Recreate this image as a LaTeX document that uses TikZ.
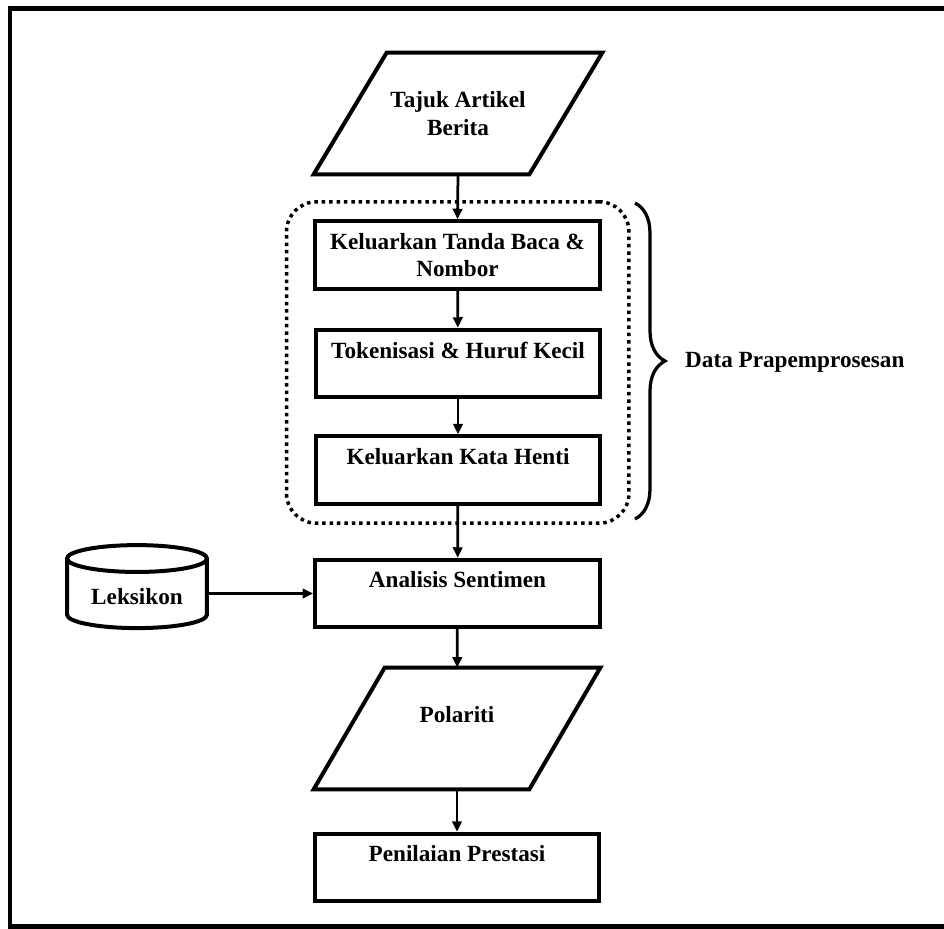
\documentclass[tikz,border=0pt]{standalone}
\usepackage{fontspec}
\setmainfont{Liberation Serif}
\usepackage{tikz}
\usetikzlibrary{positioning,shapes.geometric,arrows.meta,fit,decorations.pathreplacing}

\begin{document}
\begin{tikzpicture}[x=0.02cm, y=-0.02cm,
		font=\fontsize{13.2}{15.5}\selectfont\bfseries,
		proc/.style={rectangle, draw, line width=0.08cm, minimum width=5.7cm, minimum height=1.35cm, align=center, inner sep=2pt},
		io/.style={rectangle, minimum width=4.3cm, minimum height=2.42cm, align=center, inner sep=2pt},
		ioline/.style={line width=0.08cm, line join=miter},
		arr/.style={-{Triangle[length=0.21cm, width=0.19cm]}, line width=0.055cm}]
		\useasboundingbox (0,0) rectangle (944,929);
		\draw[line width=0.1cm] (10,9) rectangle (990,926);

		\node[io] (tajuk) at (458,113.5) {Tajuk Artikel\\Berita};
		\draw[ioline] ([xshift=-0.73cm]tajuk.south west) -- ([xshift=-0.73cm]tajuk.south east) -- ([xshift=0.73cm]tajuk.north east) -- ([xshift=0.73cm]tajuk.north west) -- cycle;

		\node[proc] (k1) at (457.5,255) {Keluarkan Tanda Baca \&\\Nombor};
		\node[proc] (k2) at (458,363.5) {Tokenisasi \& Huruf Kecil\\~};
		\node[proc] (k3) at (458,470) {Keluarkan Kata Henti\\~};
		\node[proc] (analisis) at (457.5,593.5) {Analisis Sentimen\\~};

		\node[io] (polariti) at (457,728.5) {Polariti\\~};
		\draw[ioline] ([xshift=-0.71cm]polariti.south west) -- ([xshift=-0.71cm]polariti.south east) -- ([xshift=0.71cm]polariti.north east) -- ([xshift=0.71cm]polariti.north west) -- cycle;

		\node[proc] (penilaian) at (457,867.5) {Penilaian Prestasi\\~};
		\node[cylinder, shape border rotate=90, aspect=0.26, draw, line width=0.08cm, minimum width=2.8cm, minimum height=1.66cm] (leksikon) at (137,597) {Leksikon};

		\node[draw, line width=0.07cm, dash pattern=on 0.07cm off 0.078cm, rounded corners=0.6cm, inner xsep=0.53cm, inner ysep=0.35cm, fit=(k1)(k3)] (grp) {};
		\coordinate (bt) at (635,203);
		\coordinate (bb) at (635,519);
		\draw[line width=0.065cm, decorate, decoration={brace, amplitude=0.6cm}] (bt) -- (bb);
		\node[anchor=west] (dp) at (679,362) {Data Prapemprosesan};

		\draw[arr] (tajuk.south) -- (k1.north);
		\draw[arr] (k1) -- (k2);
		\draw[arr] (k2) -- (k3);
		\draw[arr] (k3) -- (analisis);
		\draw[arr] (leksikon.east |- analisis.west) -- (analisis.west);
		\draw[arr] (analisis) -- (polariti);
		\draw[arr] (polariti) -- (penilaian);
	\end{tikzpicture}
\end{document}
